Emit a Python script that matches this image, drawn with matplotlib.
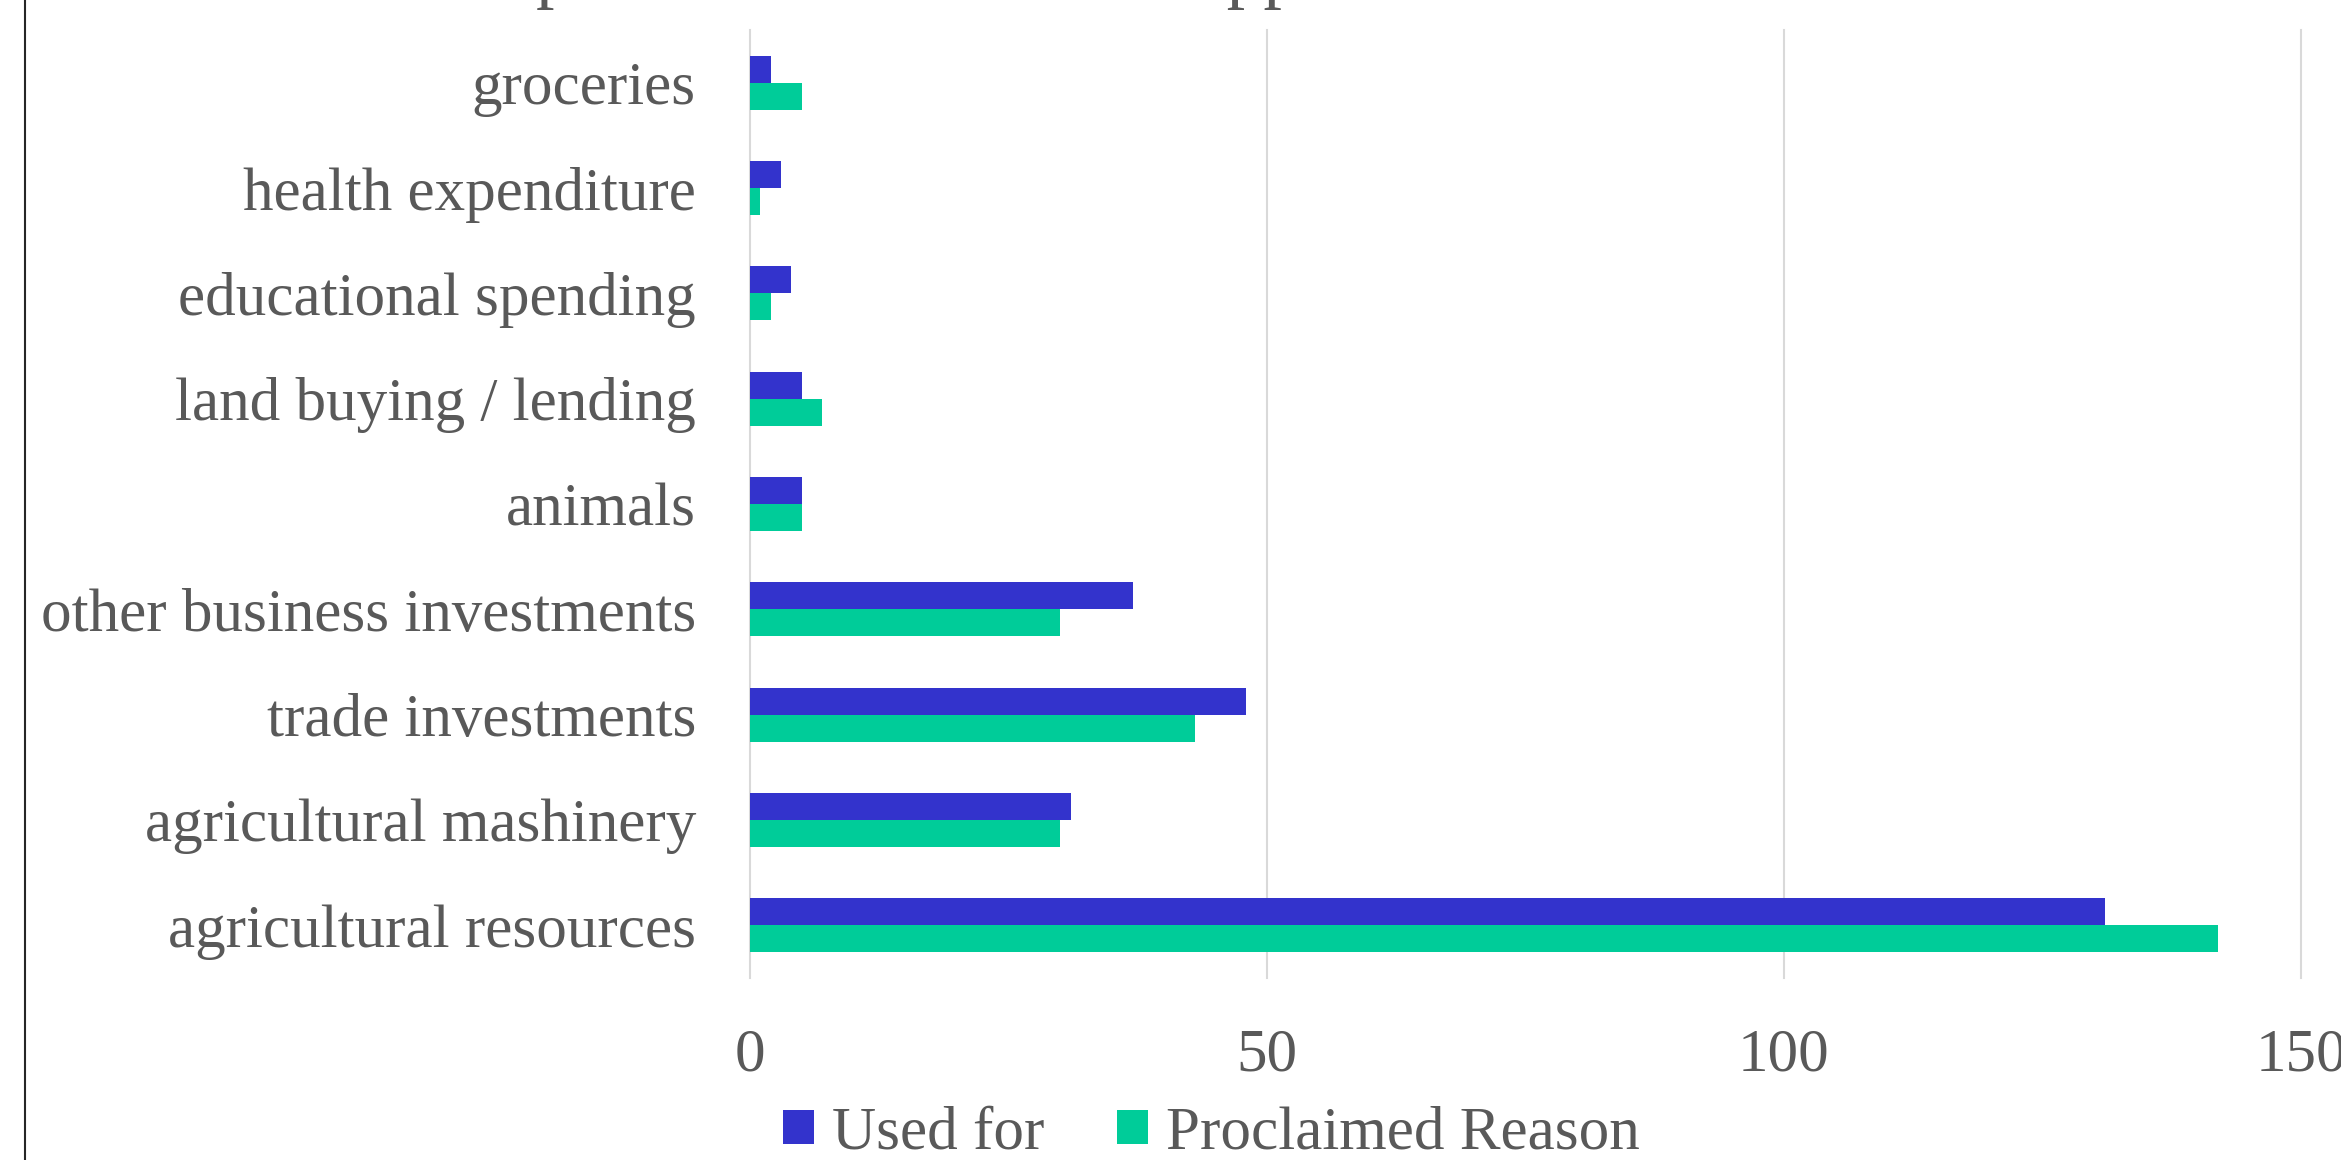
import matplotlib.pyplot as plt
from matplotlib.lines import Line2D
import numpy as np

# dados (de baixo pra cima)
categorias = ['agricultural resources', 'agricultural mashinery', 'trade investments',
              'other business investments', 'animals', 'land buying / lending',
              'educational spending', 'health expenditure', 'groceries']
used_for = [131, 31, 48, 37, 5, 5, 4, 3, 2]
proclaimed = [142, 30, 43, 30, 5, 7, 2, 1, 5]
x_ticks = [0, 50, 100, 150]

COR_AZUL = '#3333CC'
COR_VERDE = '#00CC99'
COR_TEXTO = '#595959'
COR_GRADE = '#D9D9D9'

plt.rcParams['font.family'] = ['Liberation Serif', 'DejaVu Serif']

fig = plt.figure(figsize=(23.41, 11.60), dpi=100)
ax = fig.add_axes([0.3204, 0.1569, 0.9829 - 0.3204, 0.9741 - 0.1569])

y = np.arange(len(categorias))
h = 0.256
ax.barh(y + h / 2, used_for, height=h, color=COR_AZUL, label='Used for')
ax.barh(y - h / 2, proclaimed, height=h, color=COR_VERDE, label='Proclaimed Reason')

ax.set_xlim(0, 150)
ax.set_ylim(-0.5, len(categorias) - 0.5)
ax.set_xticks(x_ticks)
ax.set_yticks(y)
ax.set_yticklabels(categorias)
ax.tick_params(axis='both', length=0, labelsize=44, labelcolor=COR_TEXTO)
ax.tick_params(axis='y', pad=39)
ax.tick_params(axis='x', pad=36)

for s in ax.spines.values():
    s.set_visible(False)
ax.set_axisbelow(True)
ax.xaxis.grid(True, color=COR_GRADE, linewidth=1.5)
for gl in ax.get_xgridlines():
    gl.set_clip_on(False)

# titulo (cortado no topo da imagem)
fig.text(0.1680, 1.005, 'Comparison of reasons for application and actual use',
         fontsize=53, color=COR_TEXTO, ha='left', va='baseline')

# borda do grafico a esquerda
fig.add_artist(Line2D([25 / 2341, 25 / 2341], [0, 1], color='#262626', linewidth=1.5))

fig.legend(loc='center', bbox_to_anchor=(0.5175, 0.0225), ncol=2, frameon=False,
           fontsize=44, labelcolor=COR_TEXTO, handlelength=0.51, handleheight=0.49,
           handletextpad=0.3, columnspacing=1.18, borderpad=0)

fig.savefig('out.png', dpi=100)
